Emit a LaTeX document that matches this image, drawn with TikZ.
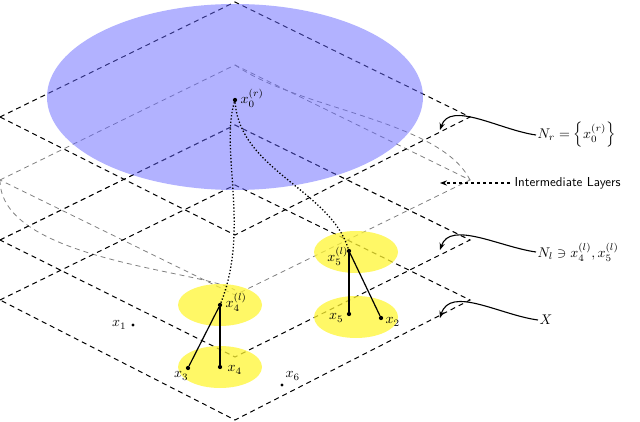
\documentclass[tikz,border=0pt]{standalone}
\usetikzlibrary{arrows.meta}
\begin{document}
\begin{tikzpicture}[x=1pt,y=-1pt,
 plane/.style={dashed,line width=1pt,dash pattern=on 5pt off 4pt},
 gplane/.style={gray,line width=0.8pt,dash pattern=on 5pt off 4pt},
 pt/.style={circle,fill,inner sep=1.5pt},
 yel/.style={fill=yellow!80,opacity=0.75},
 hook/.style={-{Stealth[length=7pt]},line width=1.1pt},
 t/.style={scale=1.4,inner sep=1pt}]
\useasboundingbox (0,0) rectangle (640,422);
\draw[gplane] (0,180)--(235,65)--(470,180)--(235,295)--cycle;
\draw[gplane] (0,180) .. controls (0,260) and (200,270) .. (235,290);
\draw[gplane] (235,65) .. controls (300,110) and (440,120) .. (470,180);
\draw[gplane] (0,240) -- (235,125) -- (470,240);
\draw[plane] (0,300)--(235,185)--(470,300)--(235,420)--cycle;
\draw[plane] (0,240)--(235,125)--(470,240)--(235,357)--cycle;
\draw[plane] (0,117)--(235,2)--(470,117)--(235,235)--cycle;
\fill[blue!60,opacity=0.5] (235,97) ellipse [x radius=188, y radius=93];
\fill[yel] (220,305) ellipse [x radius=42, y radius=21];
\fill[yel] (220,367) ellipse [x radius=42, y radius=21];
\fill[yel] (356,252) ellipse [x radius=42, y radius=21];
\fill[yel] (356,317) ellipse [x radius=42, y radius=21];
\node[pt] (x0) at (235,100) {};
\node[t,anchor=west] at (239,98) {$x_0^{(r)}$};
\node[pt] (x4l) at (220,305) {};
\node[t,anchor=west] at (224,302) {$x_4^{(l)}$};
\node[pt] (x4) at (220,367) {};
\node[t,anchor=west] at (226,370) {$x_4$};
\node[pt] (x3) at (188,368) {};
\node[t,anchor=east] at (190,376) {$x_3$};
\node[pt] (x5l) at (349,251) {};
\node[t,anchor=east] at (350,256) {$x_5^{(l)}$};
\node[pt] (x5) at (349,314) {};
\node[t,anchor=east] at (345,318) {$x_5$};
\node[pt] (x2) at (381,318) {};
\node[t,anchor=west] at (384,322) {$x_2$};
\node[pt,inner sep=1.2pt] (x1) at (133,325) {};
\node[t,anchor=east] at (128,325) {$x_1$};
\node[pt,inner sep=1.2pt] (x6) at (282,385) {};
\node[t,anchor=west] at (284,376) {$x_6$};
\draw[line width=1.3pt,dotted] (x0) .. controls (220,150) and (250,230) .. (x4l);
\draw[line width=1.3pt,dotted] (x0) .. controls (240,170) and (330,190) .. (x5l);
\draw[line width=1.2pt] (x4l)--(x4); \draw[line width=1.2pt] (x4l)--(x3);
\draw[line width=1.2pt] (x5l)--(x5); \draw[line width=1.2pt] (x5l)--(x2);
\node[t,anchor=west] (nr) at (536,135) {$N_r=\left\{x_0^{(r)}\right\}$};
\node[scale=1.3,anchor=west] (il) at (510,183) {\sffamily Intermediate Layers};
\node[t,anchor=west] (nl) at (536,252) {$N_l\ni x_4^{(l)},x_5^{(l)}$};
\node[t,anchor=west] (xx) at (538,320) {$X$};
\draw[hook] (nr.west) .. controls (500,130) and (450,100) .. (440,130);
\draw[hook,dashed] (il.west) -- (440,183);
\draw[hook] (nl.west) .. controls (500,247) and (450,220) .. (440,250);
\draw[hook] (xx.west) .. controls (500,315) and (450,285) .. (440,318);
\end{tikzpicture}
\end{document}
